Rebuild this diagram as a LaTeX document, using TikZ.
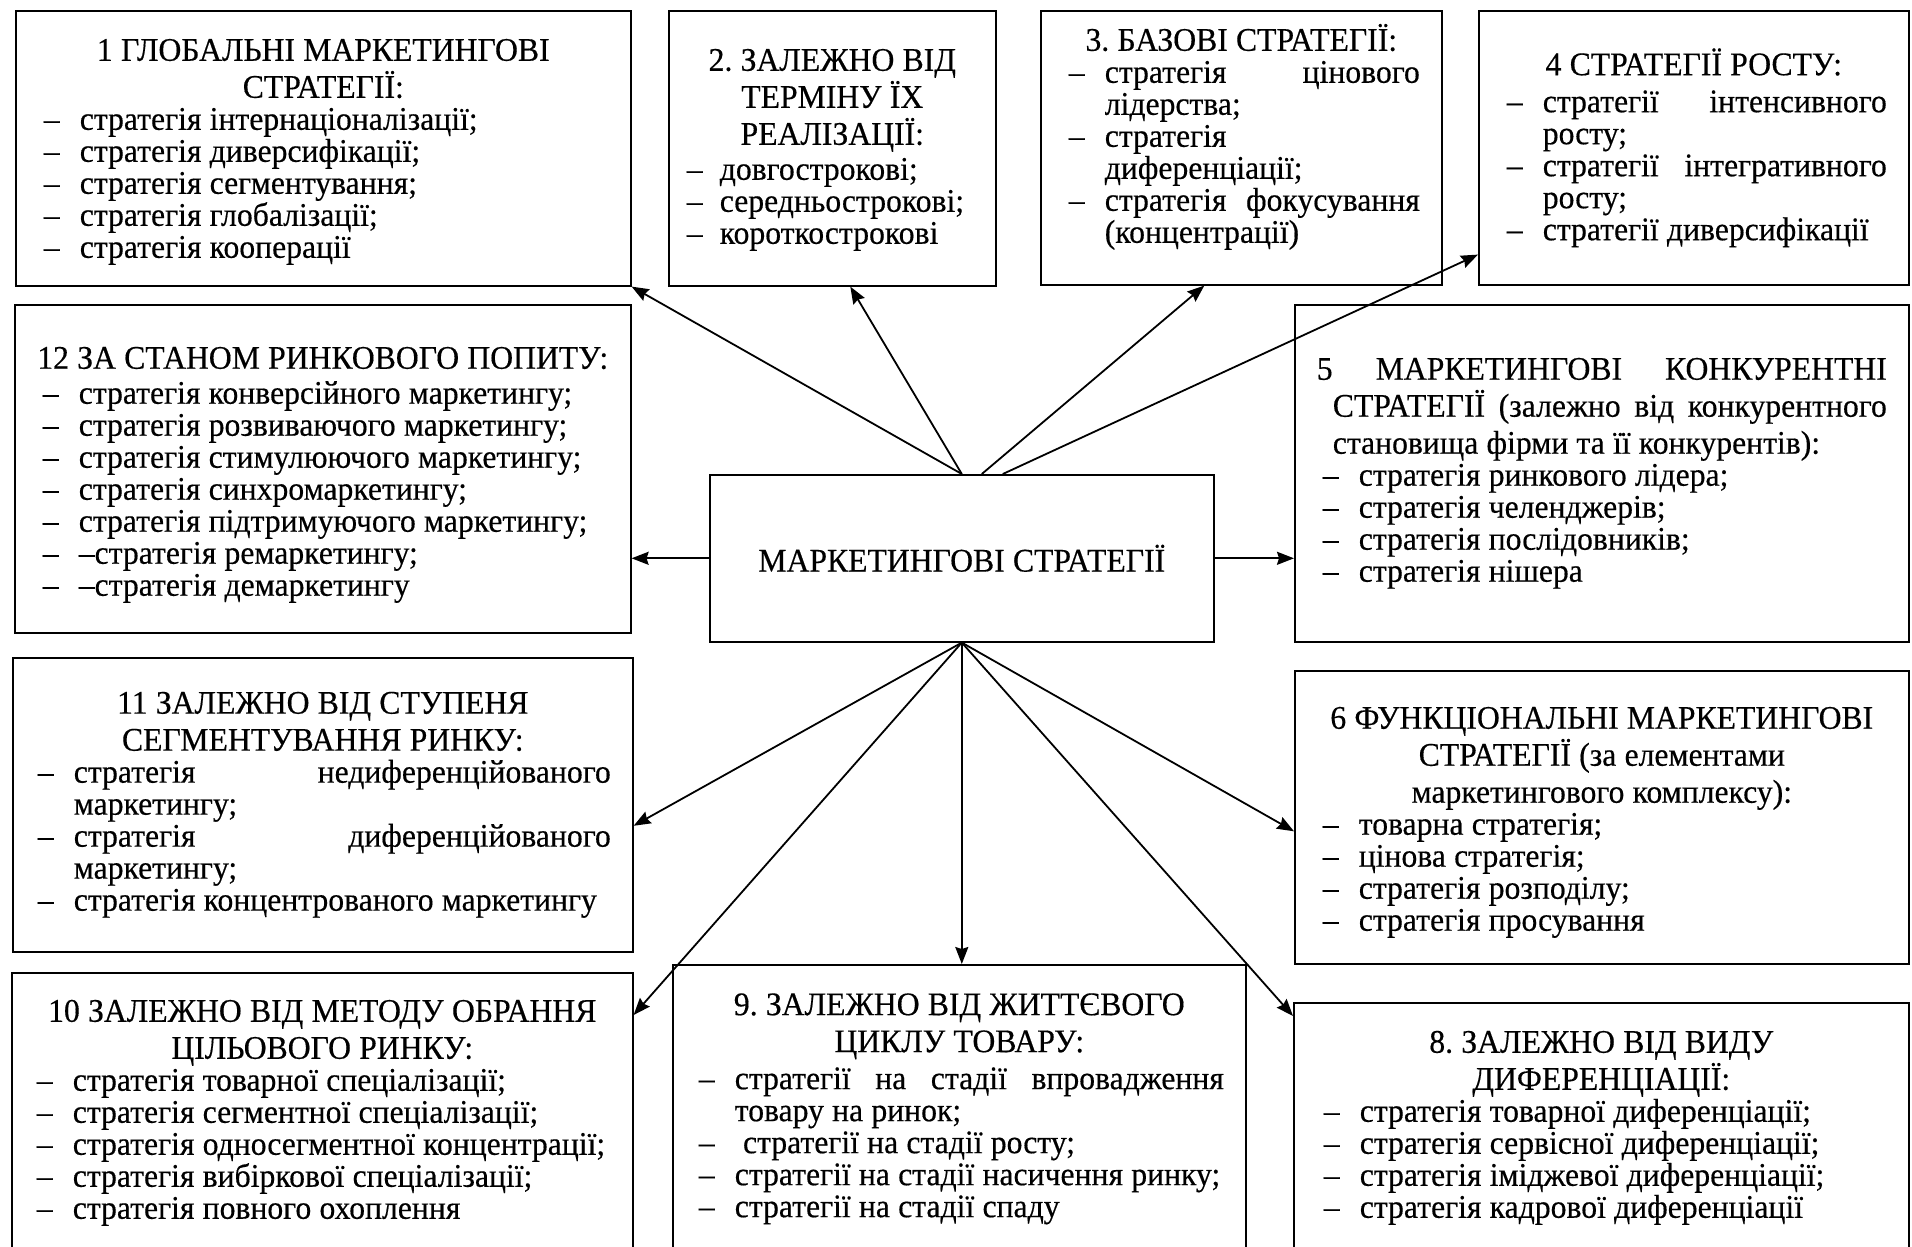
\documentclass[tikz,border=0pt]{standalone}
\usepackage{fontspec}
\setmainfont{Liberation Serif}
\newfontfamily\stratfont{Liberation Serif}[FakeStretch=0.96,FakeBold=0.4]
\usetikzlibrary{arrows.meta}

\newlength{\dashw}
\setlength{\dashw}{36pt}
\newlength{\itmshift}
\setlength{\itmshift}{6pt}
\newcommand{\boxfont}{\stratfont\fontsize{33}{32}\selectfont\frenchspacing
  \spaceskip=.25em plus .2em minus .06em\relax
  \lineskiplimit=-100pt\hyphenpenalty=10000\tolerance=10000\relax}
% title line, centred
\newcommand{\ttl}[1]{{\baselineskip=37pt\noindent\makebox[\hsize]{#1}\par}}
% one-line item / item wrapped onto a second line, the first one justified
\newcommand{\itm}[1]{\par\noindent\hspace*{\itmshift}\makebox[\dashw][l]{–}\mbox{#1}\par}
\newcommand{\itmw}[2]{\par{\leftskip=\itmshift\rightskip=0pt\parfillskip=0pt plus 1fil
  \noindent\hangindent=\dashw\hangafter=1
  \makebox[\dashw][l]{–}#1\linebreak #2\par}}

\begin{document}
\begin{tikzpicture}[x=1pt,y=-1pt,>={Stealth[length=17pt,width=13pt,inset=2pt]},
    stratbox/.style={draw,line width=1.6pt,anchor=north west,inner xsep=22pt,inner ysep=0pt,
      align=justify,font=\boxfont},
    arr/.style={->,line width=1.8pt}]
  \useasboundingbox (0,0) rectangle (1912,1247);
  \clip (0,0) rectangle (1912,1247);

  % centre
  \node[draw,line width=1.6pt,anchor=north west,minimum width=504pt,minimum height=167pt,font=\boxfont]
    (main) at (709,474) {МАРКЕТИНГОВІ СТРАТЕГІЇ};

  % top row
  \node[stratbox,text width=571pt,minimum height=275pt] (glob) at (15,10) {%
    \par\vspace{-8pt}
    \ttl{1 ГЛОБАЛЬНІ МАРКЕТИНГОВІ}\ttl{СТРАТЕГІЇ:}
    \itm{стратегія інтернаціоналізації;}
    \itm{стратегія диверсифікації;}
    \itm{стратегія сегментування;}
    \itm{стратегія глобалізації;}
    \itm{стратегія кооперації}};
  \node[stratbox,inner xsep=16pt,text width=295pt,minimum height=275pt] (term) at (668,10) {%
    \setlength{\dashw}{33pt}\setlength{\itmshift}{2pt}%
    \par\vspace{-12pt}
    \ttl{2. ЗАЛЕЖНО ВІД}\ttl{ТЕРМІНУ ЇХ}\ttl{РЕАЛІЗАЦІЇ:}\vspace{3pt}
    \itm{довгострокові;}
    \itm{середньострокові;}
    \itm{короткострокові}};
  \node[stratbox,text width=357pt,minimum height=274pt] (base) at (1040,10) {%
    \par\vspace{-32pt}
    \ttl{3. БАЗОВІ СТРАТЕГІЇ:}
    \itmw{стратегія цінового}{лідерства;}
    \itmw{стратегія\hfill}{диференціації;}
    \itmw{стратегія фокусування}{(концентрації)}};
  \node[stratbox,text width=386pt,minimum height=274pt] (grow) at (1478,10) {%
    \ttl{4 СТРАТЕГІЇ РОСТУ:}\vspace{5pt}
    \itmw{стратегії інтенсивного}{росту;}
    \itmw{стратегії інтегративного}{росту;}
    \itm{стратегії диверсифікації}};

  % middle row
  \node[stratbox,text width=572pt,minimum height=328pt] (demand) at (14,304) {%
    \par\vspace{-3pt}
    \ttl{12 ЗА СТАНОМ РИНКОВОГО ПОПИТУ:}\vspace{3pt}
    \itm{стратегія конверсійного маркетингу;}
    \itm{стратегія розвиваючого маркетингу;}
    \itm{стратегія стимулюючого маркетингу;}
    \itm{стратегія синхромаркетингу;}
    \itm{стратегія підтримуючого маркетингу;}
    \itm{–стратегія ремаркетингу;}
    \itm{–стратегія демаркетингу}};
  \node[stratbox,text width=570pt,minimum height=337pt] (comp) at (1294,304) {%
    {\baselineskip=37pt\rightskip=0pt\parfillskip=0pt plus 1fil
     \noindent\hangindent=16pt\hangafter=1
     5 МАРКЕТИНГОВІ КОНКУРЕНТНІ\linebreak СТРАТЕГІЇ (залежно від конкурентного\linebreak
     становища фірми та її конкурентів):\par}
    \itm{стратегія ринкового лідера;}
    \itm{стратегія челенджерів;}
    \itm{стратегія послідовників;}
    \itm{стратегія нішера}};
  \node[stratbox,text width=576pt,minimum height=294pt] (segm) at (12,657) {%
    \setlength{\itmshift}{3pt}%
    \ttl{11 ЗАЛЕЖНО ВІД СТУПЕНЯ}\ttl{СЕГМЕНТУВАННЯ РИНКУ:}
    \itmw{стратегія недиференційованого}{маркетингу;}
    \itmw{стратегія диференційованого}{маркетингу;}
    \itm{стратегія концентрованого маркетингу}};
  \node[stratbox,text width=570pt,minimum height=293pt] (func) at (1294,670) {%
    \par\vspace{-5pt}
    \ttl{6 ФУНКЦІОНАЛЬНІ МАРКЕТИНГОВІ}\ttl{СТРАТЕГІЇ (за елементами}\ttl{маркетингового комплексу):}
    \itm{товарна стратегія;}
    \itm{цінова стратегія;}
    \itm{стратегія розподілу;}
    \itm{стратегія просування}};

  % bottom row (cut by the page edge)
  \node[stratbox,text width=577pt,minimum height=280pt] (target) at (11,972) {%
    \setlength{\itmshift}{3pt}%
    \ttl{10 ЗАЛЕЖНО ВІД МЕТОДУ ОБРАННЯ}\ttl{ЦІЛЬОВОГО РИНКУ:}
    \itm{стратегія товарної спеціалізації;}
    \itm{стратегія сегментної спеціалізації;}
    \itm{стратегія односегментної концентрації;}
    \itm{стратегія вибіркової спеціалізації;}
    \itm{стратегія повного охоплення}};
  \node[stratbox,text width=529pt,minimum height=288pt] (life) at (672,964) {%
    \setlength{\itmshift}{4pt}%
    \ttl{9. ЗАЛЕЖНО ВІД ЖИТТЄВОГО}\ttl{ЦИКЛУ ТОВАРУ:}\vspace{5pt}
    \itmw{стратегії на стадії впровадження}{товару на ринок;}
    \itm{\ стратегії на стадії росту;}
    \itm{стратегії на стадії насичення ринку;}
    \itm{стратегії на стадії спаду}};
  \node[stratbox,text width=571pt,minimum height=250pt] (diff) at (1293,1002) {%
    \setlength{\itmshift}{8pt}%
    \ttl{8. ЗАЛЕЖНО ВІД ВИДУ}\ttl{ДИФЕРЕНЦІАЦІЇ:}
    \itm{стратегія товарної диференціації;}
    \itm{стратегія сервісної диференціації;}
    \itm{стратегія іміджевої диференціації;}
    \itm{стратегія кадрової диференціації}};

  % connectors
  \draw[arr] (main.north) -- (glob.south east);
  \draw[arr] (main.north) -- ([xshift=18pt]term.south);
  \draw[arr] ([xshift=20pt]main.north) -- ([xshift=-37pt]base.south);
  \draw[arr] ([xshift=41pt]main.north) -- ([yshift=31pt]grow.south west);
  \draw[arr] (main.west) -- (main.west -| demand.east);
  \draw[arr] (main.east) -- (main.east -| comp.west);
  \draw[arr] (main.south) -- ([yshift=-21pt]segm.east);
  \draw[arr] (main.south) -- ([yshift=-43pt]target.north east);
  \draw[arr] (main.south) -- (main.south |- life.north);
  \draw[arr] (main.south) -- ([yshift=-14pt]diff.north west);
  \draw[arr] (main.south) -- ([yshift=-14pt]func.west);
\end{tikzpicture}
\end{document}
